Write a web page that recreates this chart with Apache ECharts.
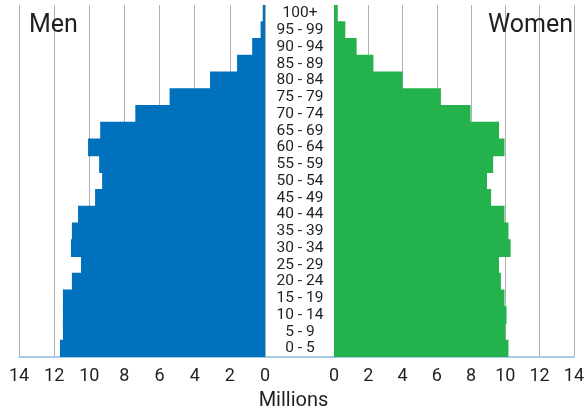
<!DOCTYPE html>
<html>
<head>
<meta charset="utf-8">
<script src="https://cdn.jsdelivr.net/npm/echarts@6/dist/echarts.min.js"></script>
<style>html,body{margin:0;padding:0;background:#fff}#c{width:587px;height:413px}</style>
</head>
<body>
<div id="c"></div>
<script>
var ageGroups = ['100+','95 - 99','90 - 94','85 - 89','80 - 84','75 - 79','70 - 74','65 - 69','60 - 64','55 - 59','50 - 54','45 - 49','40 - 44','35 - 39','30 - 34','25 - 29','20 - 24','15 - 19','10 - 14','5 - 9','0 - 5'];
var men = [0.13,0.25,0.73,1.59,3.13,5.43,7.38,9.38,10.07,9.44,9.27,9.67,10.64,10.99,11.04,10.47,10.99,11.5,11.5,11.5,11.67];
var women = [0.22,0.66,1.32,2.3,4.01,6.24,7.97,9.63,9.95,9.29,8.93,9.17,9.95,10.18,10.31,9.63,9.74,9.95,10.07,10.0,10.18];
var xTicks = [0,2,4,6,8,10,12,14];

var font = 'Roboto';
var txt = '#231f20';
var chart = echarts.init(document.getElementById('c'));
var xCommon = function(gi){
  return {
    type:'value', gridIndex:gi, min:0, max:14, interval:2,
    axisLine:{show:true, lineStyle:{color:'#8cb9de', width:1.5}},
    axisTick:{show:false},
    axisLabel:{fontFamily:font, fontSize:18, color:txt, margin:10},
    splitLine:{show:true, lineStyle:{color:'#b0b0b0', width:1}}
  };
};
var xl = xCommon(0); xl.inverse = true;
var xr = xCommon(1);
chart.setOption({
  animation:false,
  grid:[
    {left:19, right:322, top:5, bottom:56},
    {left:334, right:9, top:5, bottom:56},
    {left:265, right:253, top:5, bottom:56}
  ],
  title:[
    {text:'Men', left:24, top:8, textStyle:{fontFamily:font, fontSize:25, fontWeight:'normal', color:txt}},
    {text:'Women', right:9, top:8, textStyle:{fontFamily:font, fontSize:25, fontWeight:'normal', color:txt}},
    {text:'Millions', left:'center', top:386, textStyle:{fontFamily:font, fontSize:20, fontWeight:'normal', color:txt}}
  ],
  xAxis:[xl, xr,
    {type:'value', gridIndex:2, min:0, max:1, axisLine:{show:true, lineStyle:{color:'#8cb9de', width:1.5}}, axisTick:{show:false}, axisLabel:{show:false}, splitLine:{show:false}}
  ],
  yAxis:[
    {type:'category', gridIndex:0, data:ageGroups, inverse:true, position:'right',
     axisLine:{show:false}, axisTick:{show:false},
     axisLabel:{interval:0, align:'center', margin:35, fontFamily:font, fontSize:15.5, color:txt}},
    {type:'category', gridIndex:1, data:ageGroups, inverse:true,
     axisLine:{show:false}, axisTick:{show:false}, axisLabel:{show:false}},
    {type:'category', gridIndex:2, data:ageGroups, inverse:true, show:false}
  ],
  series:[
    {name:'Men', type:'bar', xAxisIndex:0, yAxisIndex:0, data:men, barWidth:'106%', itemStyle:{color:'#0071bc'}},
    {name:'Women', type:'bar', xAxisIndex:1, yAxisIndex:1, data:women, barWidth:'106%', itemStyle:{color:'#24b24c'}}
  ]
});
</script>
</body>
</html>
